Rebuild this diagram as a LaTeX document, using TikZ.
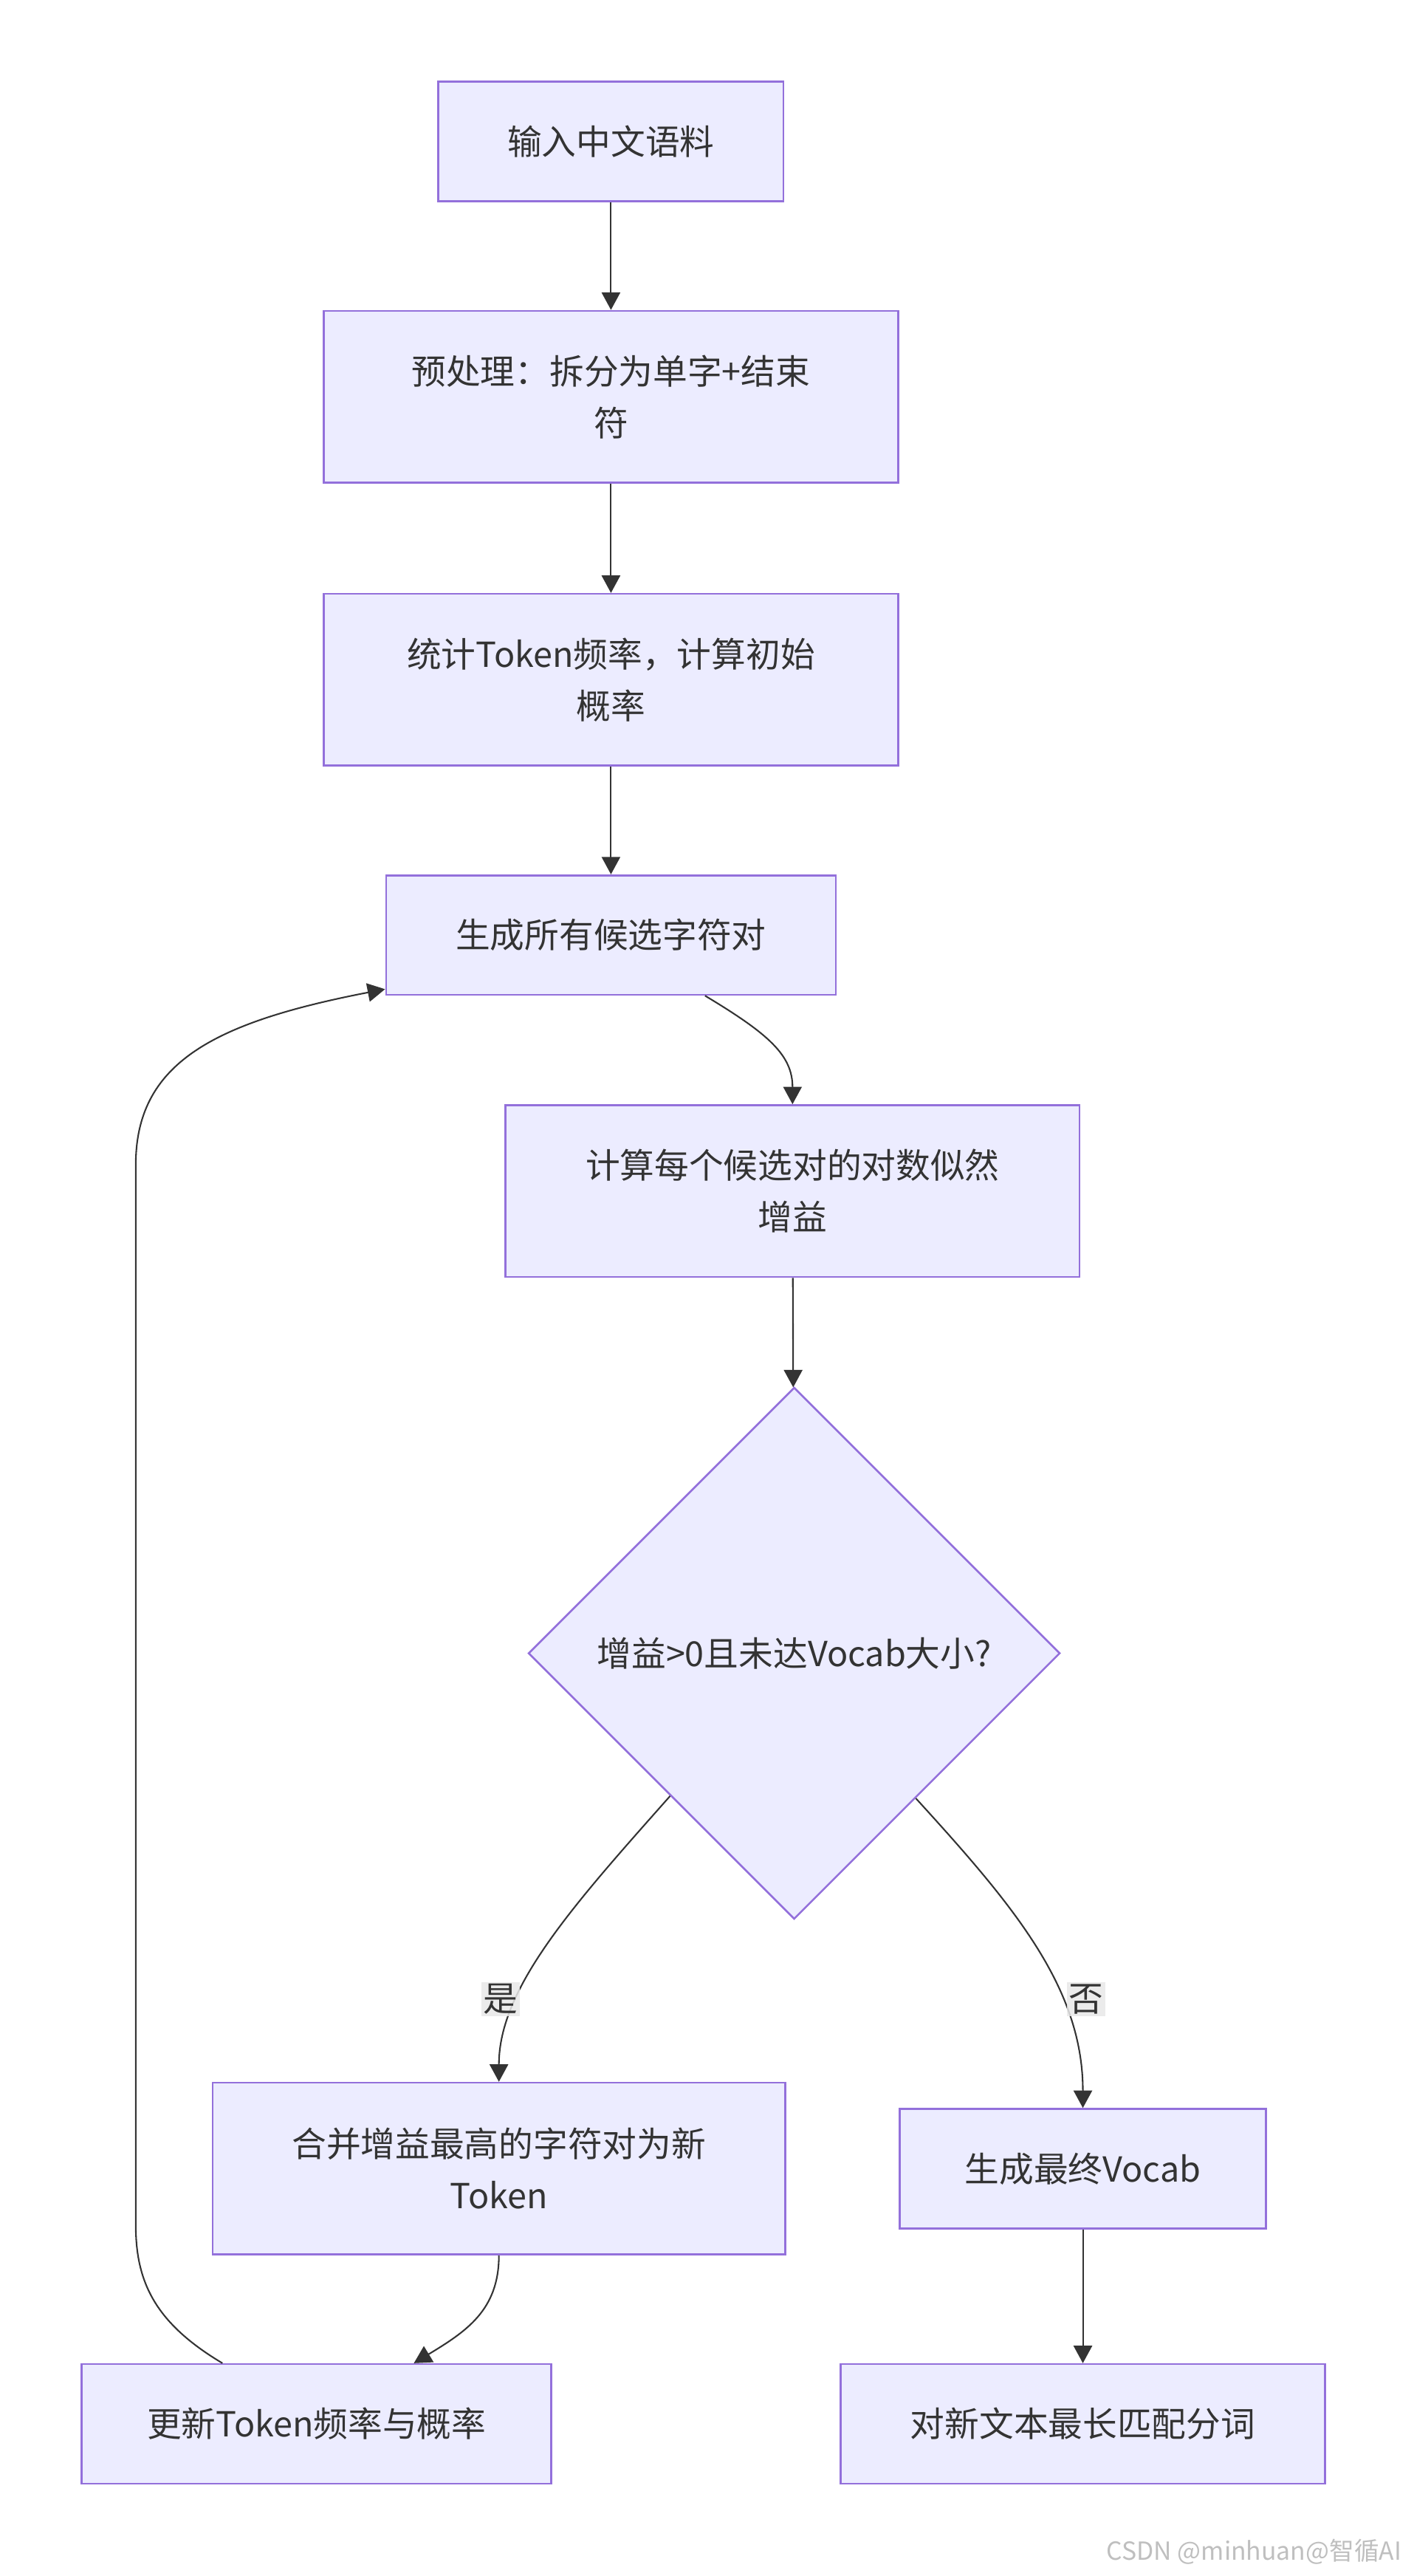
\documentclass[tikz,border=0pt]{standalone}
\usepackage{fontspec}
\setmainfont{Noto Sans CJK SC}
\usetikzlibrary{shapes.geometric,arrows.meta}
\definecolor{boxfill}{HTML}{ECECFF}
\definecolor{boxline}{HTML}{9370DB}
\definecolor{ink}{HTML}{333333}

\begin{document}
\begin{tikzpicture}
  [x=0.03cm,y=-0.03cm,
   every node/.style={font=\fontsize{18}{27}\selectfont,text=ink,align=center},
   box/.style={rectangle,draw=boxline,fill=boxfill,line width=1pt,inner sep=0pt,minimum height=2.19cm},
   cond/.style={diamond,draw=boxline,fill=boxfill,line width=1pt,inner sep=0pt,aspect=1},
   flow/.style={draw=ink,line width=0.8pt,-{Triangle[length=0.32cm,width=0.34cm]}},
   yesno/.style={fill=black!9,fill opacity=0.85,text opacity=1,inner sep=1pt}]
  \useasboundingbox (0,0) rectangle (864,1574.5);

  \node (n1)  at (373.5,86.5)   [box,minimum width=6.33cm] {输入中文语料};
  \node (n2)  at (373.5,242.5)  [box,minimum width=10.53cm,minimum height=3.15cm] {预处理：拆分为单字+结束\\符};
  \node (n3)  at (373.5,415.5)  [box,minimum width=10.53cm,minimum height=3.15cm] {统计Token频率，计算初始\\概率};
  \node (n4)  at (373.5,571.5)  [box,minimum width=8.25cm] {生成所有候选字符对};
  \node (n5)  at (484.5,728)    [box,minimum width=10.53cm,minimum height=3.15cm] {计算每个候选对的对数似然\\增益};
  \node (n6)  at (485.5,1010.5) [cond,minimum width=9.75cm,minimum height=9.75cm] {增益>0且未达Vocab大小?};
  \node (n7)  at (305,1325.5)   [box,minimum width=10.5cm,minimum height=3.15cm] {合并增益最高的字符对为新\\Token};
  \node (n8)  at (662,1325.5)   [box,minimum width=6.72cm] {生成最终Vocab};
  \node (n9)  at (193.5,1481.5) [box,minimum width=8.61cm] {更新Token频率与概率};
  \node (n10) at (662,1481.5)   [box,minimum width=8.88cm] {对新文本最长匹配分词};

  \foreach \from/\to in {n1/n2,n2/n3,n3/n4,n5/n6,n8/n10}
    \draw[flow] (\from) -- (\to);

  \draw[flow] ([xshift=1.725cm]n4.south) .. controls (470,632) and (484.5,645) .. (n5.north);
  \draw[flow] (n6.-131) .. controls (350,1165) and (305,1215) .. (n7.north);
  \draw[flow] (n6.-50) .. controls (620,1165) and (662,1215) .. (n8.north);
  \draw[flow] (n7.south) .. controls (305,1412) and (285,1425) .. ([xshift=1.785cm]n9.north);
  \draw[flow] ([xshift=-1.725cm]n9.north) .. controls (95,1420) and (83,1395) .. (83,1360)
    -- (83,712) .. controls (83,650) and (130,625) .. ([yshift=0.12cm]n4.south west);

  \node (yes) at (306,1222) [yesno] {是};
  \node (no)  at (664,1222) [yesno] {否};

  \node (mark) at (861,1565) [anchor=base east,text=black!25,font=\fontsize{13}{15}\selectfont] {CSDN @minhuan@智循AI};
\end{tikzpicture}
\end{document}
